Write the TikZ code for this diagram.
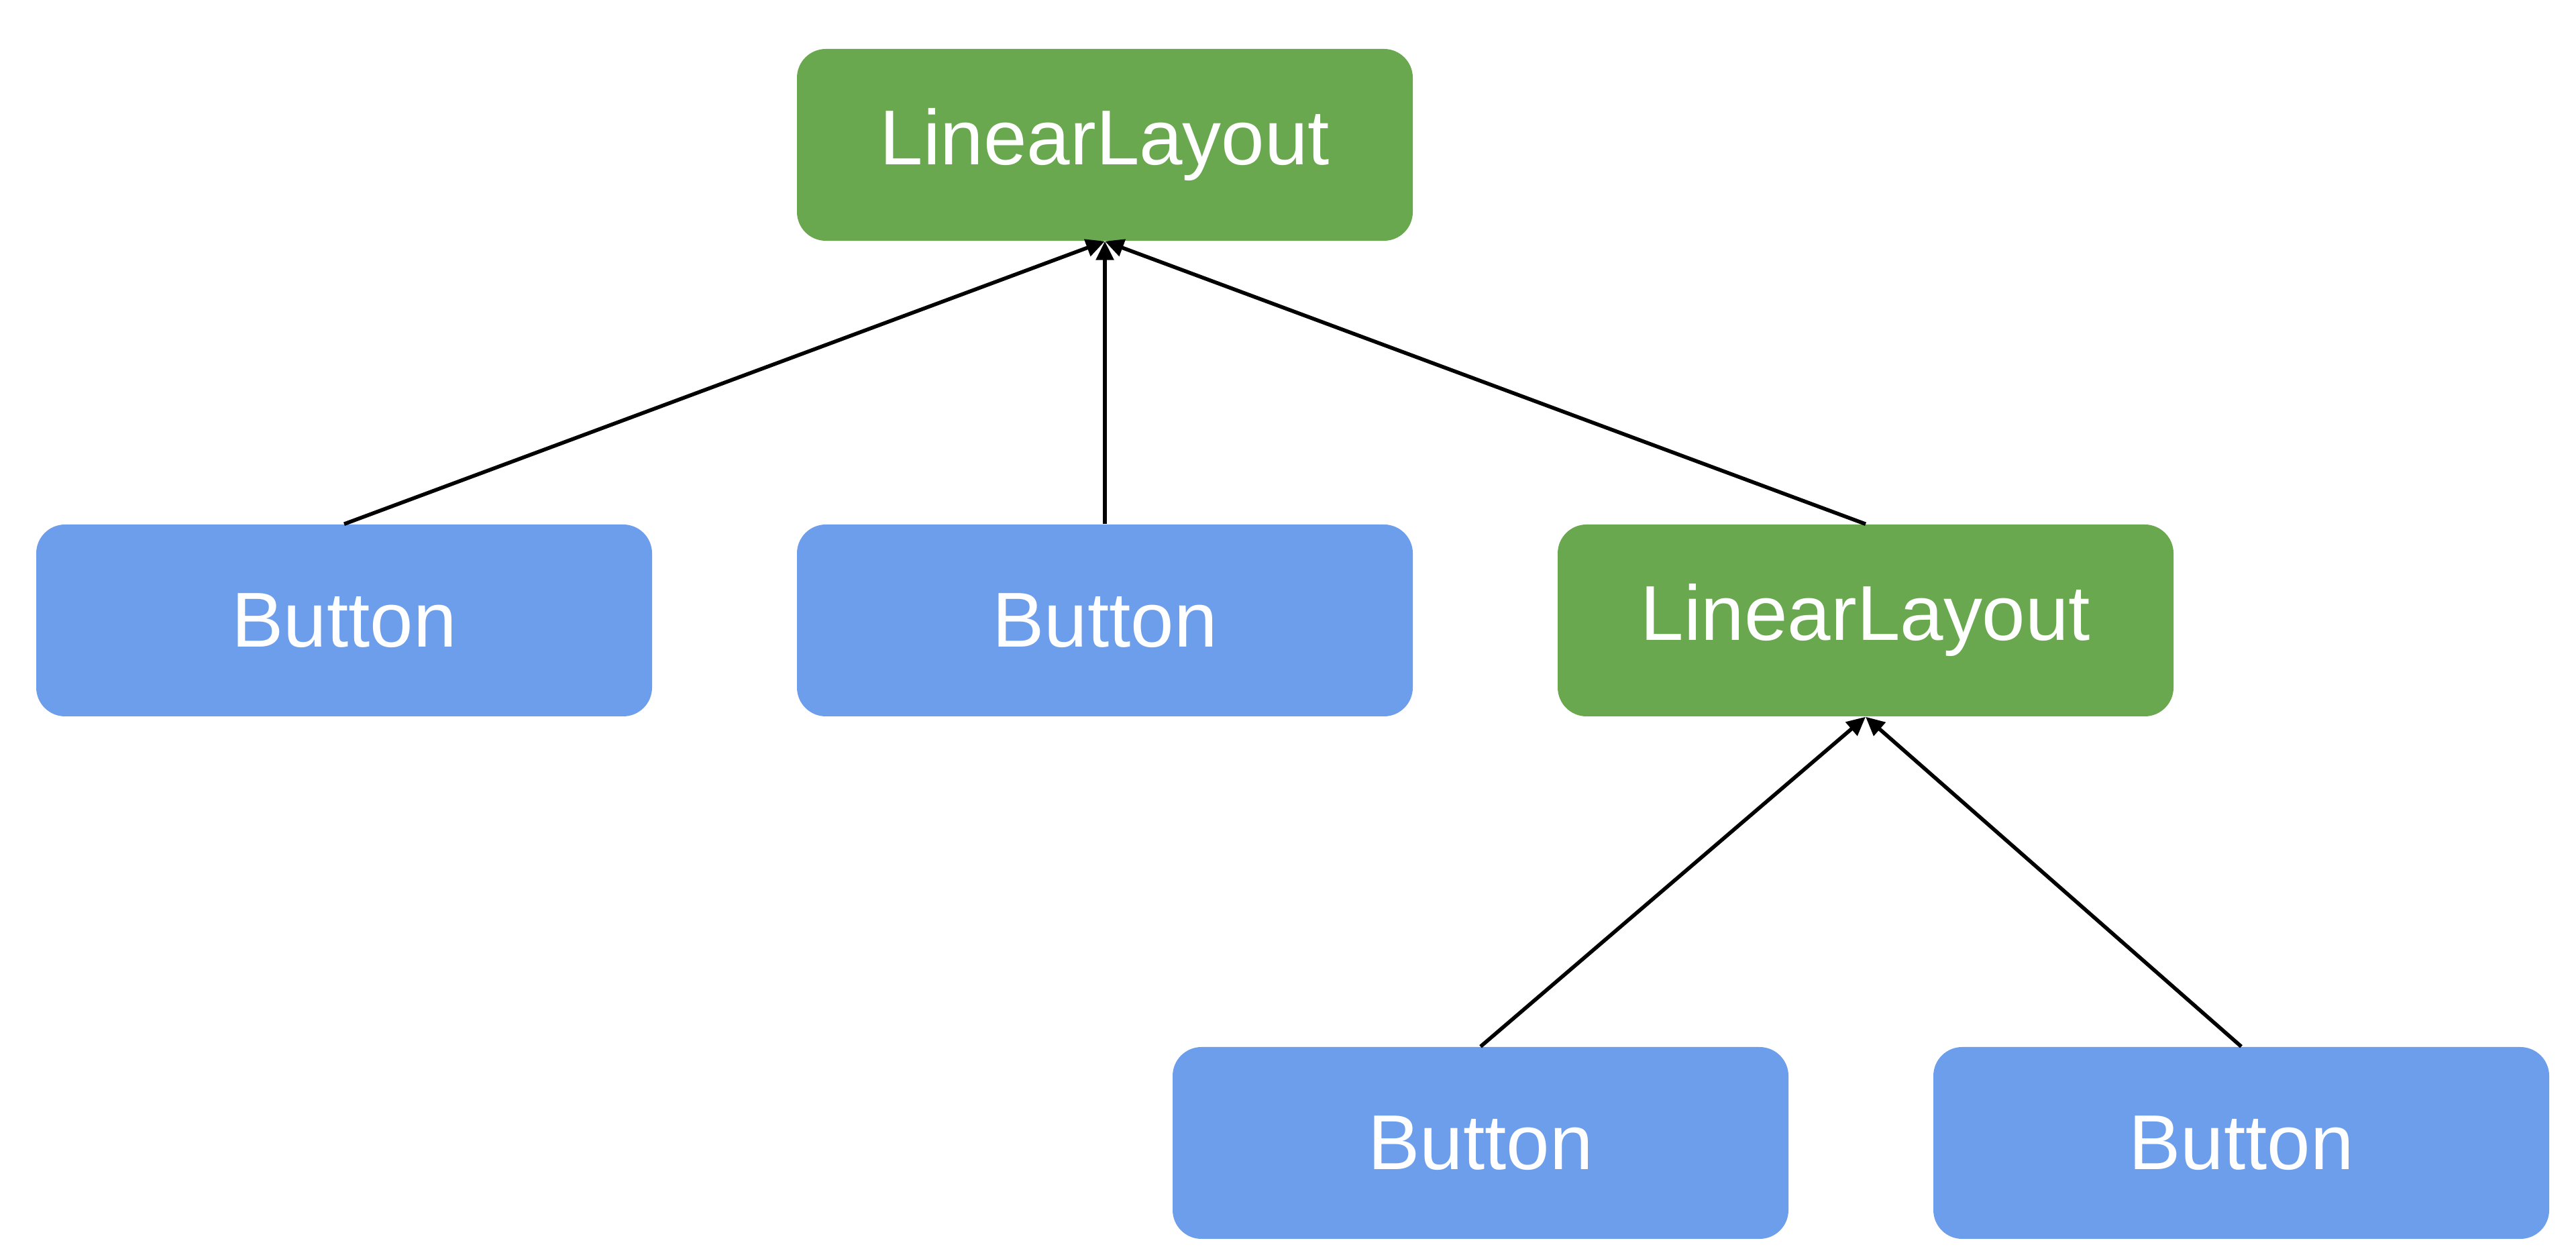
\documentclass[tikz,border=0pt]{standalone}
\usepackage{fontspec}
\setmainfont{Liberation Sans}
\usetikzlibrary{arrows.meta,positioning}

\definecolor{layoutgreen}{HTML}{6AA84F}
\definecolor{buttonblue}{HTML}{6D9EEB}

\begin{document}
\begin{tikzpicture}[
    box/.style={rounded corners=0.43cm, minimum width=9.18cm, minimum height=2.86cm,
      inner sep=0pt, text=white, font=\fontsize{33}{40}\selectfont},
    layout/.style={box, fill=layoutgreen},
    btn/.style={box, fill=buttonblue},
    child/.style={-{Triangle[length=0.28cm,width=0.26cm]}, line width=1.6pt}
  ]
    \useasboundingbox (0,0) rectangle (38.4,18.77);
    \node[layout] (root) at (16.47,16.61) {LinearLayout};
    \node[btn] (btnone) at (5.13,9.52) {Button};
    \node[btn] (btntwo) at (16.47,9.52) {Button};
    \node[layout] (inner) at (27.81,9.52) {LinearLayout};
    \node[btn] (btnthree) at (22.07,1.73) {Button};
    \node[btn] (btnfour) at (33.41,1.73) {Button};
    \draw[child] (btnone.north) -- (root.south);
    \draw[child] (btntwo.north) -- (root.south);
    \draw[child] (inner.north) -- (root.south);
    \draw[child] (btnthree.north) -- (inner.south);
    \draw[child] (btnfour.north) -- (inner.south);
  \end{tikzpicture}
\end{document}
